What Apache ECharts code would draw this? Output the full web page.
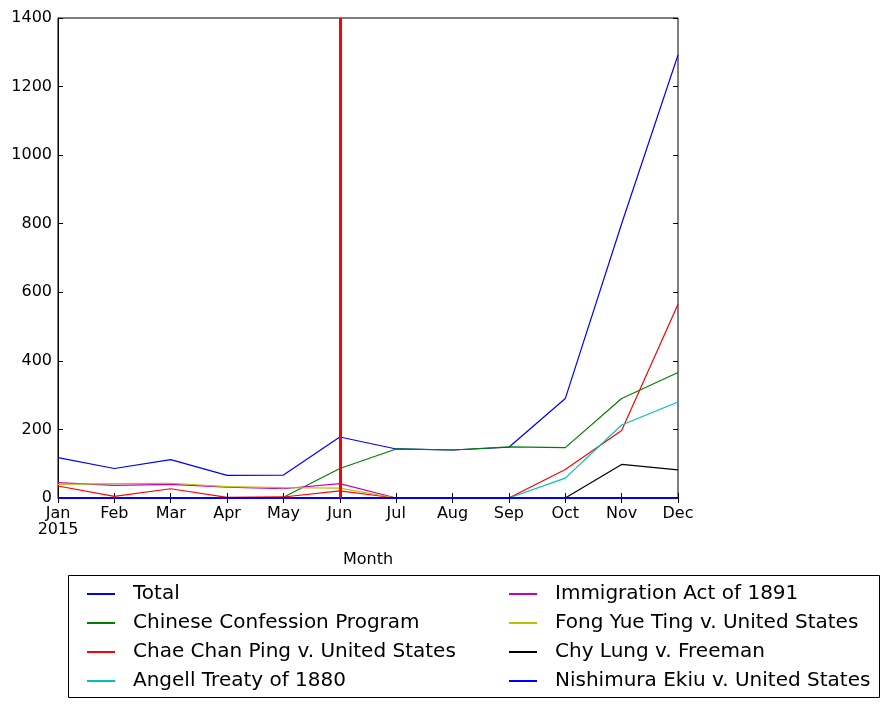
<!DOCTYPE html>
<html>
<head>
<meta charset="utf-8">
<script src="https://cdn.jsdelivr.net/npm/echarts@6/dist/echarts.min.js"></script>
<style>
  html, body { margin: 0; padding: 0; background: #fff; }
  #chart { width: 889px; height: 708px; }
</style>
</head>
<body>
<div id="chart"></div>
<script>
  const months = ['Jan', 'Feb', 'Mar', 'Apr', 'May', 'Jun', 'Jul', 'Aug', 'Sep', 'Oct', 'Nov', 'Dec'];
  const yTicks = [0, 200, 400, 600, 800, 1000, 1200, 1400];

  const total = [118, 86, 112, 66, 67, 178, 143, 140, 148, 290, 800, 1292];
  const confession = [0, 0, 0, 0, 2, 86, 143, 140, 149, 147, 290, 366];
  const chaeChanPing = [35, 5, 27, 2, 3, 21, 0, 0, 0, 83, 197, 565];
  const angell = [0, 0, 0, 0, 0, 0, 0, 0, 0, 58, 213, 280];
  const immigration = [45, 37, 40, 32, 27, 42, 0, 0, 0, 0, 0, 0];
  const fongYueTing = [40, 42, 43, 33, 30, 29, 0, 0, 0, 0, 0, 0];
  const chyLung = [0, 0, 0, 0, 0, 0, 0, 0, 0, 0, 98, 82];
  const nishimura = [0, 0, 0, 0, 0, 0, 0, 0, 0, 0, 0, 0];

  const seriesDefs = [
    {name: 'Total', data: total, color: '#0000ff'},
    {name: 'Chinese Confession Program', data: confession, color: '#008000'},
    {name: 'Chae Chan Ping v. United States', data: chaeChanPing, color: '#ff0000'},
    {name: 'Angell Treaty of 1880', data: angell, color: '#00bfbf'},
    {name: 'Immigration Act of 1891', data: immigration, color: '#bf00bf'},
    {name: 'Fong Yue Ting v. United States', data: fongYueTing, color: '#bfbf00'},
    {name: 'Chy Lung v. Freeman', data: chyLung, color: '#000000'},
    {name: 'Nishimura Ekiu v. United States', data: nishimura, color: '#0000ff'}
  ];

  const font = 'DejaVu Sans';
  const tickStyle = {show: true, inside: true, length: 5, lineStyle: {color: '#000', width: 1}};

  const series = seriesDefs.map(function (s, i) {
    return {
      name: s.name,
      type: 'line',
      data: s.data,
      symbol: 'none',
      color: s.color,
      lineStyle: {width: i === seriesDefs.length - 1 ? 2 : 1.2, color: s.color},
      animation: false
    };
  });
  series[0].markLine = {
    silent: true,
    symbol: 'none',
    label: {show: false},
    lineStyle: {color: '#ff0000', width: 3, type: 'solid'},
    data: [{xAxis: 'Jun'}]
  };

  const legendBase = {
    orient: 'vertical',
    top: 579,
    itemWidth: 28,
    itemHeight: 2,
    itemGap: 9,
    icon: 'rect',
    textStyle: {fontFamily: font, fontSize: 20, color: '#000', lineHeight: 20, padding: [0, 0, 0, 13]}
  };

  const chart = echarts.init(document.getElementById('chart'));
  chart.setOption({
    backgroundColor: '#fff',
    animation: false,
    grid: {left: 58, right: 211, top: 18, bottom: 210, show: true, borderColor: '#000', borderWidth: 1},
    xAxis: [{
      type: 'category',
      data: months,
      boundaryGap: false,
      name: 'Month',
      nameLocation: 'middle',
      nameGap: 54,
      nameTextStyle: {fontFamily: font, fontSize: 16, color: '#000'},
      axisLine: {lineStyle: {color: '#000'}},
      axisTick: Object.assign({alignWithLabel: true}, tickStyle),
      axisLabel: {
        fontFamily: font, fontSize: 16, color: '#000', margin: 8, interval: 0,
        formatter: function (v) { return v === 'Jan' ? 'Jan\n2015' : v; }
      },
      splitLine: {show: false}
    }, {
      type: 'category',
      data: months,
      boundaryGap: false,
      position: 'top',
      axisLine: {show: false},
      axisTick: tickStyle,
      axisLabel: {show: false},
      splitLine: {show: false}
    }],
    yAxis: [{
      type: 'value',
      min: yTicks[0],
      max: yTicks[yTicks.length - 1],
      interval: 200,
      axisLine: {show: true, lineStyle: {color: '#000'}},
      axisTick: tickStyle,
      axisLabel: {fontFamily: font, fontSize: 16, color: '#000', margin: 6, formatter: function (v) { return String(v); }},
      splitLine: {show: false}
    }, {
      type: 'value',
      position: 'right',
      min: yTicks[0],
      max: yTicks[yTicks.length - 1],
      interval: 200,
      axisLine: {show: false},
      axisTick: tickStyle,
      axisLabel: {show: false},
      splitLine: {show: false}
    }],
    legend: [
      Object.assign({left: 82, data: seriesDefs.slice(0, 4).map(function (s) { return s.name; })}, legendBase),
      Object.assign({left: 504, data: seriesDefs.slice(4).map(function (s) { return s.name; })}, legendBase)
    ],
    graphic: [{
      type: 'rect',
      shape: {x: 68.5, y: 575.5, width: 811, height: 122},
      style: {fill: 'none', stroke: '#000', lineWidth: 1},
      silent: true
    }],
    series: series
  });
</script>
</body>
</html>
